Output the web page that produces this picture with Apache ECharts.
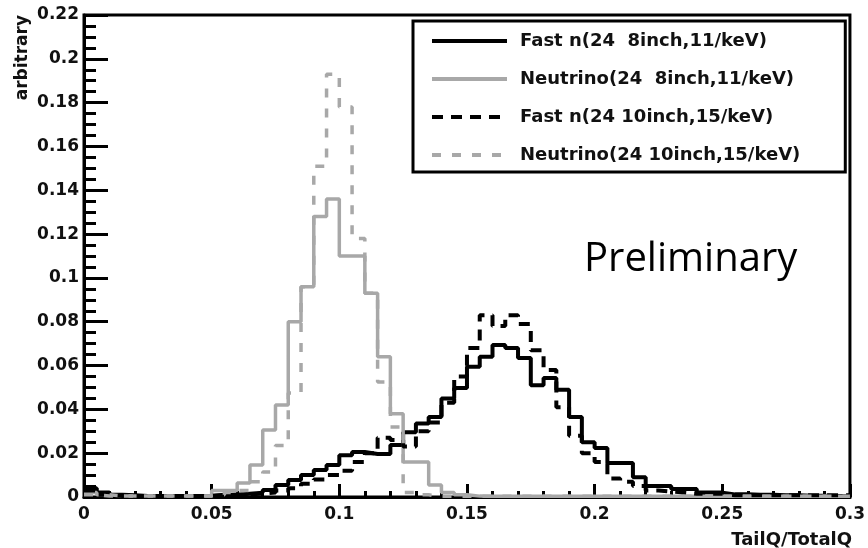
<!DOCTYPE html>
<html>
<head>
<meta charset="utf-8">
<script src="https://cdn.jsdelivr.net/npm/echarts@6/dist/echarts.min.js"></script>
<style>
  html, body { margin: 0; padding: 0; background: #fff; }
  #chart { width: 868px; height: 548px; }
</style>
</head>
<body>
<div id="chart"></div>
<script>
// 60 bins of 0.005 from 0 to 0.3 (TailQ/TotalQ)
const binWidth = 0.005
const nBins = 60

const fastN8 = [
  0.004, 0.002, 0.001, 0.0008, 0.0005, 0.0005, 0.0005, 0.0005, 0.0005, 0.0005,
  0.001, 0.001, 0.0015, 0.002, 0.0032, 0.0055, 0.0078, 0.010, 0.0123, 0.0146,
  0.019, 0.0205, 0.0196, 0.0196, 0.0237, 0.0295, 0.0335, 0.0365, 0.045, 0.0497,
  0.0594, 0.064, 0.0694, 0.068, 0.0635, 0.051, 0.0543, 0.0489, 0.0365, 0.025,
  0.0224, 0.0155, 0.0155, 0.009, 0.005, 0.005, 0.0036, 0.0036, 0.002, 0.002,
  0.0012, 0.0012, 0.001, 0.001, 0.0008, 0.0008, 0.0006, 0.0006, 0.0005, 0.0004
]
const neutrino8 = [
  0.002, 0.001, 0.0005, 0.0005, 0.0005, 0.0005, 0.0005, 0.0005, 0.0005, 0.0005,
  0.003, 0.003, 0.0064, 0.0146, 0.0306, 0.042, 0.080, 0.096, 0.128, 0.136,
  0.110, 0.110, 0.093, 0.064, 0.038, 0.016, 0.016, 0.0055, 0.002, 0.001,
  0.0004, 0.0003, 0.0003, 0.0003, 0.0003, 0.0003, 0.0003, 0.0003, 0.0003, 0.0003,
  0.0003, 0.0003, 0.0003, 0.0003, 0.0003, 0.0003, 0.0003, 0.0003, 0.0003, 0.0003,
  0.0003, 0.0003, 0.0003, 0.0003, 0.0003, 0.0003, 0.0003, 0.0003, 0.0003, 0.0003
]
const fastN10 = [
  0.003, 0.001, 0.0005, 0.0005, 0.0005, 0.0005, 0.0005, 0.0005, 0.0005, 0.0005,
  0.0008, 0.001, 0.0012, 0.0015, 0.002, 0.003, 0.004, 0.006, 0.008, 0.010,
  0.012, 0.016, 0.020, 0.027, 0.026, 0.023, 0.030, 0.034, 0.043, 0.055,
  0.068, 0.083, 0.078, 0.083, 0.079, 0.067, 0.058, 0.041, 0.028, 0.020,
  0.016, 0.0085, 0.007, 0.005, 0.003, 0.0025, 0.002, 0.0015, 0.0015, 0.0015,
  0.0008, 0.0008, 0.0008, 0.0008, 0.0008, 0.0008, 0.0008, 0.0008, 0.0008, 0.0008
]
const neutrino10 = [
  0.001, 0.0005, 0.0005, 0.0005, 0.0005, 0.0005, 0.0005, 0.0005, 0.0005, 0.0005,
  0.001, 0.002, 0.003, 0.007, 0.0114, 0.0235, 0.0475, 0.096, 0.151, 0.193,
  0.178, 0.118, 0.093, 0.0525, 0.032, 0.002, 0.001, 0.0003, 0.0003, 0.0003,
  0.0003, 0.0003, 0.0003, 0.0003, 0.0003, 0.0003, 0.0003, 0.0003, 0.0003, 0.0003,
  0.0003, 0.0003, 0.0003, 0.0003, 0.0003, 0.0003, 0.0003, 0.0003, 0.0003, 0.0003,
  0.0003, 0.0003, 0.0003, 0.0003, 0.0003, 0.0003, 0.0003, 0.0003, 0.0003, 0.0003
]

const seriesNames = [
  'Fast n(24  8inch,11/keV)',
  'Neutrino(24  8inch,11/keV)',
  'Fast n(24 10inch,15/keV)',
  'Neutrino(24 10inch,15/keV)'
]

const GRAY = '#a8a8a8'
const TXT = '#111'
const FONT = 'DejaVu Sans'

// histogram as step line: one point per left bin edge, plus the last right edge
const toSteps = vals => {
  let pts = []
  for (let i = 0; i < nBins; i++) {
    pts.push([+(i * binWidth).toFixed(4), vals[i]])
  }
  pts.push([nBins * binWidth, vals[nBins - 1]])
  return pts
}

const histSeries = (name, vals, color, width, dash) => ({
  name: name,
  type: 'line',
  step: 'end',
  symbol: 'none',
  data: toSteps(vals),
  lineStyle: { color: color, width: width, type: dash || 'solid', cap: 'butt' },
  itemStyle: { color: color },
  emphasis: { disabled: true },
  silent: true
})

let chart = echarts.init(document.getElementById('chart'))
chart.setOption({
  animation: false,
  grid: {
    left: 84, right: 16, top: 15, bottom: 51,
    show: true,
    borderColor: '#000',
    borderWidth: 3
  },
  legend: {
    orient: 'vertical',
    left: 413,
    top: 21,
    padding: [11, 45, 8, 17],
    itemWidth: 75,
    itemHeight: 14,
    itemGap: 20,
    backgroundColor: '#fff',
    borderColor: '#000',
    borderWidth: 3,
    borderRadius: 0,
    itemStyle: { opacity: 0 },
    lineStyle: { width: 4 },
    textStyle: { fontFamily: FONT, fontWeight: 'bold', fontSize: 18, color: TXT, padding: [0, 0, 0, 8] },
    data: seriesNames
  },
  xAxis: {
    type: 'value',
    min: 0,
    max: 0.3,
    interval: 0.05,
    axisLine: { show: true, onZero: false, lineStyle: { color: '#000', width: 3 } },
    axisTick: { show: true, inside: true, length: 13, lineStyle: { color: '#000', width: 3 } },
    minorTick: { show: true, splitNumber: 5, length: 6, lineStyle: { color: '#000', width: 3 } },
    splitLine: { show: false },
    axisLabel: { fontFamily: FONT, fontWeight: 'bold', fontSize: 17, color: TXT, margin: 9 }
  },
  yAxis: {
    type: 'value',
    min: 0,
    max: 0.22,
    interval: 0.02,
    axisLine: { show: true, onZero: false, lineStyle: { color: '#000', width: 3 } },
    axisTick: { show: true, inside: true, length: 24, lineStyle: { color: '#000', width: 3 } },
    minorTick: { show: true, splitNumber: 4, length: 12, lineStyle: { color: '#000', width: 3 } },
    splitLine: { show: false },
    axisLabel: { fontFamily: FONT, fontWeight: 'bold', fontSize: 17, color: TXT, margin: 5 }
  },
  series: [
    histSeries(seriesNames[0], fastN8, '#000', 4),
    histSeries(seriesNames[1], neutrino8, GRAY, 3.5),
    histSeries(seriesNames[2], fastN10, '#000', 4, [11, 8]),
    histSeries(seriesNames[3], neutrino10, GRAY, 3.5, [9, 11])
  ],
  graphic: [
    {
      type: 'text',
      x: 23, y: 15,
      rotation: Math.PI / 2,
      style: { text: 'arbitrary', fontFamily: FONT, fontWeight: 'bold', fontSize: 17, fill: TXT, textAlign: 'right', textVerticalAlign: 'middle' }
    },
    {
      type: 'text',
      x: 852, y: 540,
      style: { text: 'TailQ/TotalQ', fontFamily: FONT, fontWeight: 'bold', fontSize: 18, fill: TXT, textAlign: 'right', textVerticalAlign: 'middle' }
    },
    {
      type: 'text',
      x: 584, y: 280,
      style: { text: 'Preliminary', fontFamily: 'Open Sans', fontSize: 40, fill: '#000', textAlign: 'left', textVerticalAlign: 'bottom' }
    }
  ]
})
</script>
</body>
</html>
